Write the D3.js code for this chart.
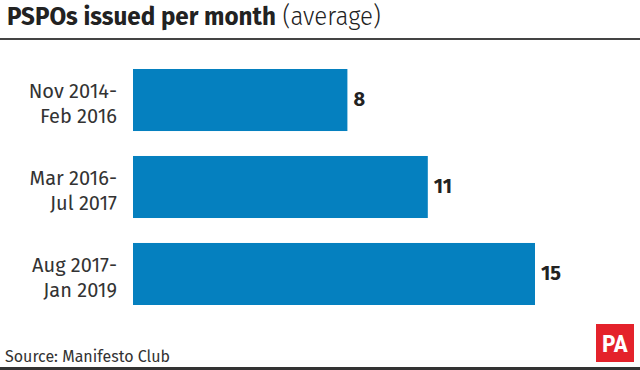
<!DOCTYPE html>
<html>
<head>
<meta charset="utf-8">
<script src="https://cdn.jsdelivr.net/npm/d3@7"></script>
<style>
  html, body { margin: 0; padding: 0; background: #fff; }
  svg { display: block; font-family: "Fira Sans", "Open Sans", sans-serif; }
</style>
</head>
<body>
<div id="chart"></div>
<script>
const periods = [["Nov 2014-", "Feb 2016"], ["Mar 2016-", "Jul 2017"], ["Aug 2017-", "Jan 2019"]];
const averages = [8, 11, 15];
const titleBold = "PSPOs issued per month";
const titleLight = "(average)";
const source = "Source: Manifesto Club";

const width = 640, height = 370;
const svg = d3.select('#chart').append('svg')
  .attr('width', width)
  .attr('height', height);

// title, squeezed a little to match the narrower original face
const title = svg.append('text')
  .attr('transform', 'translate(7,25) scale(0.93,1)')
  .attr('font-size', 26).attr('fill', '#222');
title.append('tspan').attr('font-weight', 700).text(titleBold);
title.append('tspan').attr('font-weight', 300).text(' ' + titleLight);

svg.append('rect').attr('x', 0).attr('y', 38).attr('width', width).attr('height', 2).attr('fill', '#444');

const x = d3.scaleLinear().domain([0, 15]).range([133, 535]);
const y = d3.scaleBand().domain(d3.range(periods.length)).range([69, 305]).paddingInner(0.287);

svg.selectAll('rect.bar')
  .data(averages)
  .enter().append('rect')
  .attr('class', 'bar')
  .attr('x', x(0))
  .attr('y', (d, i) => y(i))
  .attr('width', d => x(d) - x(0))
  .attr('height', y.bandwidth())
  .attr('fill', '#0580bf');

svg.selectAll('text.val')
  .data(averages)
  .enter().append('text')
  .attr('class', 'val')
  .attr('x', d => x(d) + 6)
  .attr('y', (d, i) => y(i) + y.bandwidth() / 2 + 6)
  .attr('font-size', 20)
  .attr('font-weight', 700)
  .attr('fill', '#222')
  .text(d => d);

const labels = svg.selectAll('text.cat')
  .data(periods)
  .enter().append('text')
  .attr('class', 'cat')
  .attr('text-anchor', 'end')
  .attr('font-size', 20)
  .attr('fill', '#333');
labels.append('tspan')
  .attr('x', 117)
  .attr('y', (d, i) => y(i) + y.bandwidth() / 2 - 2)
  .text(d => d[0]);
labels.append('tspan')
  .attr('x', 117)
  .attr('y', (d, i) => y(i) + y.bandwidth() / 2 + 23)
  .text(d => d[1]);

// footer
svg.append('text').attr('x', 5).attr('y', 362)
  .attr('font-size', 16).attr('fill', '#333').text(source);
svg.append('rect').attr('x', 0).attr('y', 367).attr('width', width).attr('height', 3).attr('fill', '#333');

const logo = svg.append('g').attr('transform', 'translate(596,324)');
logo.append('rect').attr('width', 38).attr('height', 38).attr('fill', '#e4222b');
logo.append('text').attr('x', 19).attr('y', 28).attr('text-anchor', 'middle')
  .attr('font-size', 24).attr('font-weight', 700).attr('fill', '#fff')
  .attr('font-family', '"Roboto Condensed", "Liberation Sans Narrow", "DejaVu Sans Condensed", sans-serif')
  .attr('textLength', 26).attr('lengthAdjust', 'spacingAndGlyphs')
  .text('PA');
</script>
</body>
</html>
